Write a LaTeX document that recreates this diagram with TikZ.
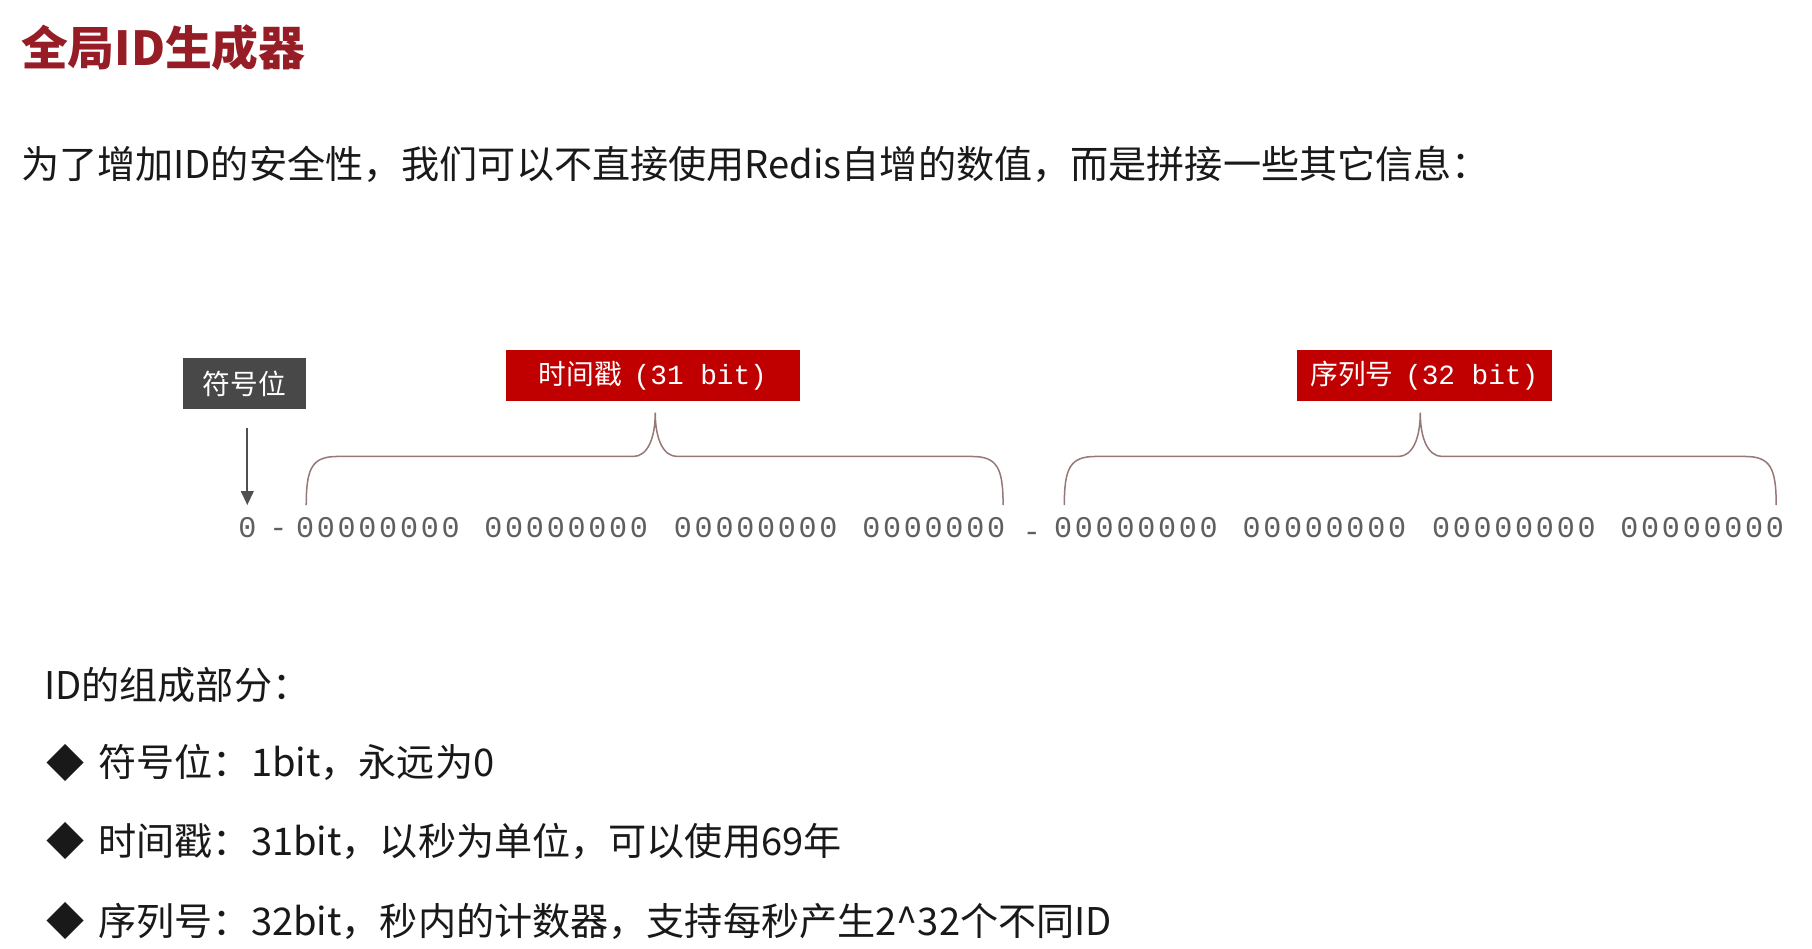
\documentclass[tikz,border=0pt]{standalone}
\usepackage{fontspec}
\setmainfont{Noto Sans CJK SC}
\newfontfamily\monof{Liberation Mono}
\newfontfamily\monols{Liberation Mono}[LetterSpace=9.2]
\usetikzlibrary{arrows.meta}
\definecolor{titlered}{RGB}{150,28,38}
\definecolor{boxred}{RGB}{192,0,0}
\definecolor{boxgrey}{RGB}{72,72,72}
\definecolor{arrowc}{RGB}{80,80,80}
\definecolor{bracec}{RGB}{150,120,120}
\definecolor{bitc}{RGB}{95,95,95}
\definecolor{txt}{RGB}{25,25,25}
\begin{document}
\begin{tikzpicture}[x=1pt,y=-1pt,
  txtline/.style={anchor=west,inner sep=0pt,text=txt,font=\fontsize{33}{36}\selectfont},
  labelbox/.style={minimum height=44pt,inner sep=0pt,text=white,font=\fontsize{24}{28}\selectfont},
  bits/.style={anchor=base west,inner sep=0pt,text=bitc,font=\monols\fontsize{26}{28}\selectfont},
  bracepath/.style={draw=bracec,line width=1.3pt},
  arrowline/.style={draw=arrowc,line width=1.5pt,-{Triangle[length=12pt,width=11pt]}}]
\useasboundingbox (0,0) rectangle (1568,821);
\fill[white] (0,0) rectangle (1568,821);

% title and intro
\node[anchor=west,inner sep=0pt,text=titlered,font=\bfseries\fontsize{40.5}{44}\selectfont] (title) at (18,41) {全局ID生成器};
\node[txtline] (intro) at (18,142) {为了增加ID的安全性，我们可以不直接使用Redis自增的数值，而是拼接一些其它信息：};

% label boxes
\node[labelbox,fill=boxgrey,minimum width=107pt] (sign) at (211.5,332) {符号位};
\node[labelbox,fill=boxred,minimum width=254pt] (ts) at (565,325) {时间戳{\monof\hspace{10pt}(31 bit)}};
\node[labelbox,fill=boxred,minimum width=221pt] (seq) at (1232.5,325) {序列号{\monof\hspace{10pt}(32 bit)}};

% bit string
\node[bits] (b0) at (206,465) {0};
\node[bits] (d1) at (233,465) {-};
\node[bits] (g1) at (256,465) {00000000};
\node[bits] (g2) at (419,465) {00000000};
\node[bits] (g3) at (583,465) {00000000};
\node[bits] (g4) at (746,465) {0000000};
\node[bits] (d2) at (885,469) {-};
\node[bits] (g5) at (912,465) {00000000};
\node[bits] (g6) at (1075,465) {00000000};
\node[bits] (g7) at (1239,465) {00000000};
\node[bits] (g8) at (1402,465) {00000000};

% arrow from sign label to sign bit
\coordinate (arrtop) at (214,370);
\coordinate (arrbot) at (214,437);
\draw[arrowline] (arrtop) -- (arrbot);

% braces
\coordinate (tsL) at (265,437);
\coordinate (tsR) at (868,437);
\coordinate (tsP) at (567,357);
\draw[bracepath] (tsL) .. controls (265,405) and (270,395) .. (292,395) -- (548,395)
  .. controls (560,395) and (567,380) .. (tsP)
  .. controls (567,380) and (574,395) .. (586,395) -- (841,395)
  .. controls (863,395) and (868,405) .. (tsR);
\coordinate (sqL) at (921,437);
\coordinate (sqR) at (1537,437);
\coordinate (sqP) at (1229,357);
\draw[bracepath] (sqL) .. controls (921,405) and (926,395) .. (948,395) -- (1210,395)
  .. controls (1222,395) and (1229,380) .. (sqP)
  .. controls (1229,380) and (1236,395) .. (1248,395) -- (1510,395)
  .. controls (1532,395) and (1537,405) .. (sqR);

% components list
\node[txtline] (head) at (38,593) {ID的组成部分：};
\node[txtline] (s1) at (40,660) {◆};
\node[txtline] (t1) at (85,660) {符号位：1bit，永远为0};
\node[txtline] (s2) at (40,728) {◆};
\node[txtline] (t2) at (85,728) {时间戳：31bit，以秒为单位，可以使用69年};
\node[txtline] (s3) at (40,797) {◆};
\node[txtline] (t3) at (85,797) {序列号：32bit，秒内的计数器，支持每秒产生2\^{}32个不同ID};
\end{tikzpicture}
\end{document}
